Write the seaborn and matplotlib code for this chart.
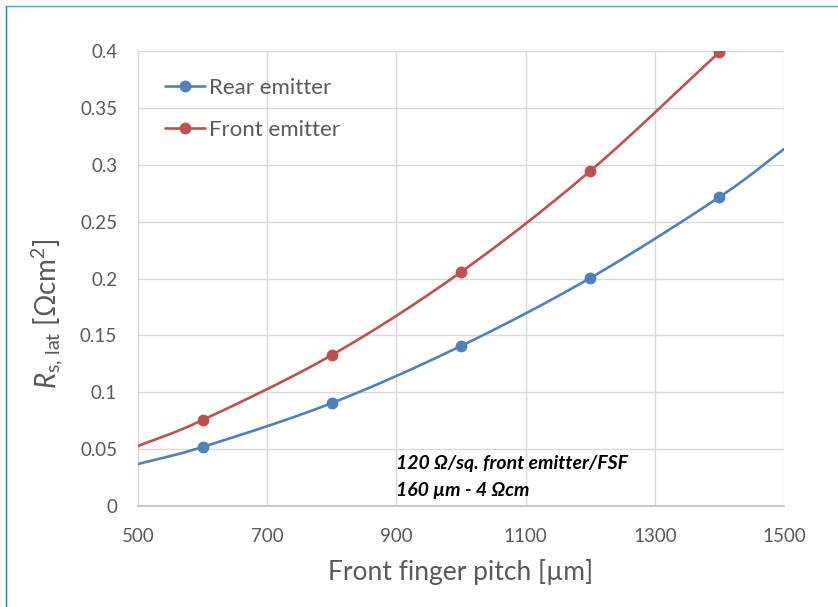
import numpy as np
import matplotlib
matplotlib.use("Agg")
import matplotlib.pyplot as plt
import seaborn as sns

# --- values ---
pitch_rear = [500, 600, 800, 1000, 1200, 1400, 1500]
rs_rear = [0.0369, 0.0519, 0.0905, 0.1407, 0.2004, 0.2716, 0.3138]
pitch_front = [500, 600, 800, 1000, 1200, 1400]
rs_front = [0.0527, 0.0756, 0.1327, 0.2057, 0.2945, 0.399]
marker_pitch = [600, 800, 1000, 1200, 1400]

x_ticks = [500, 700, 900, 1100, 1300, 1500]
y_ticks = [0, 0.05, 0.1, 0.15, 0.2, 0.25, 0.3, 0.35, 0.4]
y_ticklabels = ["0", "0.05", "0.1", "0.15", "0.2", "0.25", "0.3", "0.35", "0.4"]

BLUE = "#4f81bd"
RED = "#c0504d"
GREY = "#595959"


def smooth(xs, ys, n=30):
    # Excel-like smoothed line (Catmull-Rom through the points)
    xs = np.asarray(xs, float)
    ys = np.asarray(ys, float)
    px = np.concatenate([[2 * xs[0] - xs[1]], xs, [2 * xs[-1] - xs[-2]]])
    py = np.concatenate([[2 * ys[0] - ys[1]], ys, [2 * ys[-1] - ys[-2]]])
    out_x, out_y = [], []
    t = np.linspace(0, 1, n)
    for i in range(1, len(px) - 2):
        for arr, out in ((px, out_x), (py, out_y)):
            p0, p1, p2, p3 = arr[i - 1], arr[i], arr[i + 1], arr[i + 2]
            seg = 0.5 * ((2 * p1) + (-p0 + p2) * t
                         + (2 * p0 - 5 * p1 + 4 * p2 - p3) * t ** 2
                         + (-p0 + 3 * p1 - 3 * p2 + p3) * t ** 3)
            out.extend(seg)
    return np.array(out_x), np.array(out_y)


sns.set_theme(style="white")
plt.rcParams["font.family"] = ["Lato", "DejaVu Sans"]
plt.rcParams["mathtext.fontset"] = "custom"
plt.rcParams["mathtext.rm"] = "Lato"
plt.rcParams["mathtext.it"] = "Lato:italic"

fig = plt.figure(figsize=(8.38, 6.07), dpi=100)
ax = fig.add_axes([138 / 838, 101 / 607, 646 / 838, 455 / 607])

for xs, ys, color, label in ((pitch_rear, rs_rear, BLUE, "Rear emitter"),
                             (pitch_front, rs_front, RED, "Front emitter")):
    sx, sy = smooth(xs, ys)
    sns.lineplot(x=sx, y=sy, ax=ax, color=color, linewidth=1.9, sort=False)
    mk = [y for x, y in zip(xs, ys) if x in marker_pitch]
    ax.plot(marker_pitch, mk, "o", color=color, markersize=7.5)
    ax.plot([], [], "-o", color=color, linewidth=1.9, markersize=7.5, label=label)

ax.set_xlim(500, 1500)
ax.set_ylim(0, 0.4)
ax.set_xticks(x_ticks)
ax.set_yticks(y_ticks)
ax.set_yticklabels(y_ticklabels)
ax.tick_params(axis="both", length=0, labelsize=13.5, colors=GREY)
ax.tick_params(axis="x", pad=16)
ax.tick_params(axis="y", pad=15)
ax.grid(True, color="#d9d9d9", linewidth=1)
for side in ("top", "right", "left"):
    ax.spines[side].set_visible(False)
ax.spines["bottom"].set_color("#bfbfbf")

ax.set_xlabel("Front finger pitch [µm]", fontsize=19, color=GREY, labelpad=10)
ax.set_ylabel(r"$R_{\mathrm{s,\,lat}}$ [Ωcm$^2$]", fontsize=20, color=GREY)
ax.yaxis.set_label_coords(-72 / 646, 0.424)

ax.text(900, 0.0375, "120 Ω/sq. front emitter/FSF", fontsize=14,
        style="italic", weight="bold", color="black", va="center")
ax.text(900, 0.014, "160 µm - 4 Ωcm", fontsize=14,
        style="italic", weight="bold", color="black", va="center")

leg = ax.legend(loc="upper left", bbox_to_anchor=(27 / 646, 0.941), frameon=False,
                fontsize=16, handlelength=1.8, handletextpad=0.2,
                labelspacing=1.0, borderaxespad=0, borderpad=0)
for t in leg.get_texts():
    t.set_color(GREY)

# chart-area border (left and top edges visible in the reference)
fig.add_artist(plt.Line2D([5.5 / 838, 5.5 / 838], [0, 1 - 6 / 607],
                          transform=fig.transFigure, color="#2e75b6", linewidth=1))
fig.add_artist(plt.Line2D([5.5 / 838, 1], [1 - 6 / 607, 1 - 6 / 607],
                          transform=fig.transFigure, color="#5b9bd5", linewidth=1))

fig.savefig("out.png", dpi=100)
